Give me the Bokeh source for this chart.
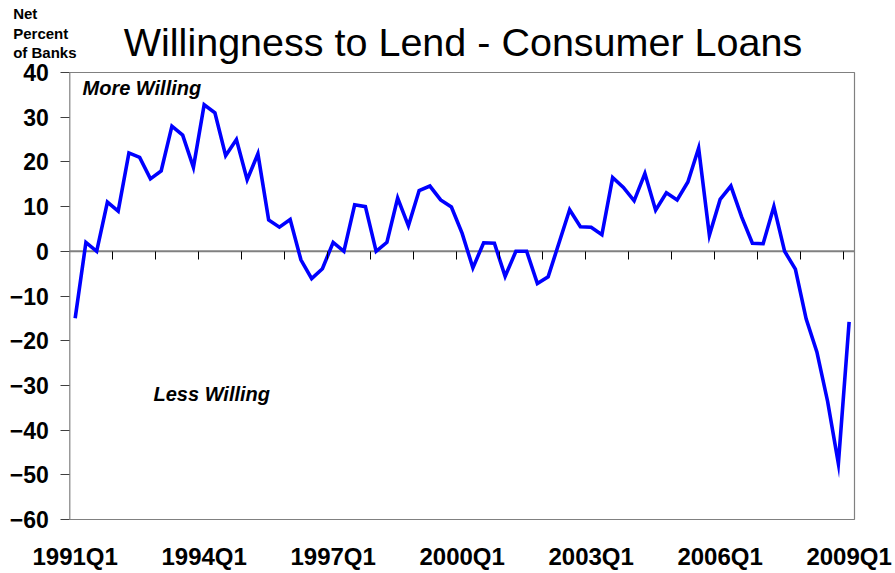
from bokeh.plotting import figure
from bokeh.models import LinearAxis, FixedTicker, Label, Range1d, CustomJSTickFormatter
from bokeh.embed import file_html
from bokeh.resources import INLINE

# ---- data -------------------------------------------------------------
quarters = [f"{y}Q{q}" for y in range(1991, 2010) for q in range(1, 5)][:73]

willingness = [
    -15.0, 2.0, 0.0, 11.0, 9.0, 22.0, 21.0, 16.2, 18.0, 28.0,
    26.0, 18.8, 32.8, 31.0, 21.4, 25.0, 16.0, 21.8, 7.0, 5.4,
    7.1, -1.9, -6.1, -3.9, 2.0, 0.0, 10.4, 10.0, 0.0, 2.0,
    11.9, 5.7, 13.6, 14.6, 11.5, 9.9, 4.0, -3.7, 1.9, 1.8,
    -5.6, 0.0, 0.0, -7.2, -5.7, 1.8, 9.3, 5.5, 5.4, 3.7,
    16.5, 14.3, 11.3, 17.4, 9.2, 13.1, 11.5, 15.5, 23.1, 3.6,
    11.6, 14.6, 7.7, 1.8, 1.7, 10.0, 0.0, -4.0, -15.1, -22.5,
    -33.6, -47.5, -15.8,
]

tick_labels = ["1991Q1", "1994Q1", "1997Q1", "2000Q1", "2003Q1", "2006Q1", "2009Q1"]
y_ticks = [-60, -50, -40, -30, -20, -10, 0, 10, 20, 30, 40]

idx = list(range(len(quarters)))
label_pos = [quarters.index(t) for t in tick_labels]
year_bounds = [i - 0.5 for i in idx if quarters[i].endswith("Q1") and i > 0]
x_lo, x_hi = idx[0] - 0.5, idx[-1] + 0.5
y_lo, y_hi = min(y_ticks), max(y_ticks)

# ---- layout (pixels) --------------------------------------------------
W, H = 895, 573
BOX_L, BOX_R, BOX_T, BOX_B = 69.3, 854.0, 72.0, 519.0
px_x = (BOX_R - BOX_L) / (x_hi - x_lo)
px_y = (BOX_B - BOX_T) / (y_hi - y_lo)
xr = Range1d(x_lo - BOX_L / px_x, x_hi + (W - BOX_R) / px_x)
yr = Range1d(y_lo - (H - BOX_B) / px_y, y_hi + BOX_T / px_y)


def dx(px):
    return xr.start + px / px_x


def dy(py):
    return yr.end - py / px_y


FONT = "Liberation Sans"

p = figure(
    width=W, height=H, x_range=xr, y_range=yr,
    x_axis_type=None, y_axis_type=None,
    output_backend="svg", toolbar_location=None,
    min_border=0, min_border_left=0, min_border_right=0,
    min_border_top=0, min_border_bottom=0,
)
p.outline_line_color = None
p.background_fill_color = "white"
p.border_fill_color = "white"
p.xgrid.visible = False
p.ygrid.visible = False

# plot box
p.quad(left=x_lo, right=x_hi, bottom=y_lo, top=y_hi,
       fill_color=None, line_color="#808080", line_width=1.2)

# y axis (drawn at the left edge of the box)
yax = LinearAxis(
    fixed_location=x_lo,
    ticker=FixedTicker(ticks=y_ticks),
    axis_line_color=None,
    major_tick_in=0, major_tick_out=9,
    major_tick_line_color="#404040", major_tick_line_width=1,
    minor_tick_line_color=None,
    major_label_text_font=FONT, major_label_text_font_style="bold",
    major_label_text_font_size="23px", major_label_text_color="black",
    major_label_standoff=12,
)
p.add_layout(yax, "left")

# zero line and year tick marks
p.line([x_lo, x_hi], [0, 0], line_color="#808080", line_width=2)
zero_axis = LinearAxis(
    fixed_location=0,
    ticker=FixedTicker(ticks=year_bounds),
    formatter=CustomJSTickFormatter(code="return ''"),
    axis_line_color=None,
    major_tick_in=0, major_tick_out=8,
    major_tick_line_color="black", major_tick_line_width=1,
    minor_tick_line_color=None,
    major_label_text_font_size="1px", major_label_standoff=0,
)
p.add_layout(zero_axis, "below")

# quarter labels under the box
label_axis = LinearAxis(
    fixed_location=y_lo,
    ticker=FixedTicker(ticks=label_pos),
    major_label_overrides={pos: t for pos, t in zip(label_pos, tick_labels)},
    axis_line_color=None, major_tick_line_color=None, minor_tick_line_color=None,
    major_tick_in=0, major_tick_out=0,
    major_label_text_font=FONT, major_label_text_font_style="bold",
    major_label_text_font_size="24px", major_label_text_color="black",
    major_label_standoff=23,
)
p.add_layout(label_axis, "below")

# series
p.line(idx, willingness, line_color="#0000FF", line_width=3.6, line_join="miter")

# texts (baseline positions in pixels, corrected for the renderer's offset)
p.add_layout(Label(x=dx(462.5), y=dy(54.5 - 13), text="Willingness to Lend - Consumer Loans",
                   text_font=FONT, text_font_size="39.5px", text_color="black",
                   text_align="center", text_baseline="alphabetic"))
for txt, by in [("Net", 18.3), ("Percent", 38.3), ("of Banks", 57.3)]:
    p.add_layout(Label(x=dx(12.7), y=dy(by - 5), text=txt, text_font=FONT,
                       text_font_style="bold", text_font_size="15px",
                       text_color="black", text_align="left",
                       text_baseline="alphabetic"))
p.add_layout(Label(x=dx(82), y=dy(95 - 8), text="More Willing", text_font=FONT,
                   text_font_style="bold italic", text_font_size="20px",
                   text_color="black", text_baseline="alphabetic"))
p.add_layout(Label(x=dx(153), y=dy(401 - 8), text="Less Willing", text_font=FONT,
                   text_font_style="bold italic", text_font_size="20px",
                   text_color="black", text_baseline="alphabetic"))

open("out.html", "w").write(file_html(p, INLINE))
